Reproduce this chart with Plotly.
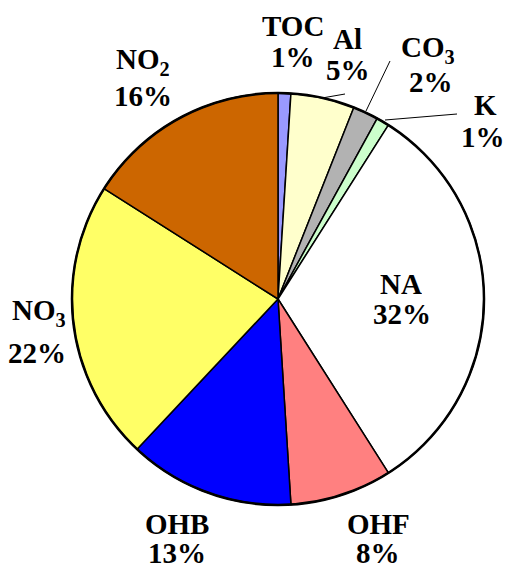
import plotly.graph_objects as go

# Share of each component (percent), clockwise from 12 o'clock
components = ["TOC", "Al", "CO3", "K", "NA", "OHF", "OHB", "NO3", "NO2"]
label_names = ["TOC", "Al", "CO<sub>3</sub>", "K", "NA", "OHF", "OHB", "NO<sub>3</sub>", "NO<sub>2</sub>"]
shares = [1, 5, 2, 1, 32, 8, 13, 22, 16]
slice_colors = ["#9999FF", "#FFFFCC", "#B2B2B2", "#CCFFCC", "#FFFFFF",
                "#FF8080", "#0000FF", "#FFFF66", "#CC6600"]

W, H = 506, 572
CX, CY, R = 278, 299, 206  # pie centre and radius in pixels


def px(x):
    return x / W


def py(y):
    return 1 - y / H


fig = go.Figure(go.Pie(
    labels=components,
    values=shares,
    sort=False,
    direction="clockwise",
    rotation=0,
    marker=dict(colors=slice_colors, line=dict(color="black", width=1.5)),
    textinfo="none",
    hoverinfo="label+percent",
    showlegend=False,
    domain=dict(x=[px(CX - R), px(CX + R)], y=[py(CY + R), py(CY - R)]),
))

# heavier outer rim
shapes = [dict(type="circle", xref="paper", yref="paper",
               x0=px(CX - R), x1=px(CX + R), y0=py(CY + R), y1=py(CY - R),
               line=dict(color="black", width=2.5))]

# leader lines for the narrow slices
leaders = [((345, 94), (322, 98)), ((390, 61), (366, 111)), ((457, 114), (385, 120))]
for (x0, y0), (x1, y1) in leaders:
    shapes.append(dict(type="line", xref="paper", yref="paper",
                       x0=px(x0), y0=py(y0), x1=px(x1), y1=py(y1),
                       line=dict(color="black", width=1)))

# label positions: (name centre x, name centre y, percent centre x, percent centre y)
label_pos = {
    "TOC": (293, 25, 293, 56),
    "Al": (347, 39, 348, 69),
    "CO3": (428, 50, 431, 81),
    "K": (485, 105, 483, 137),
    "NA": (401, 283, 402, 313),
    "OHF": (378, 523, 378, 552),
    "OHB": (177, 523, 177, 552),
    "NO3": (39, 312, 37, 352),
    "NO2": (143, 61, 143, 96),
}

font = dict(family="Liberation Serif", size=29, color="black")
annotations = []
for comp, name, v in zip(components, label_names, shares):
    nx, ny, vx, vy = label_pos[comp]
    annotations.append(dict(x=px(nx), y=py(ny), xref="paper", yref="paper",
                            text=f"<b>{name}</b>", showarrow=False, font=font,
                            height=29, borderpad=0,
                            xanchor="center", yanchor="middle"))
    annotations.append(dict(x=px(vx), y=py(vy), xref="paper", yref="paper",
                            text=f"<b>{v}%</b>", showarrow=False, font=font,
                            height=29, borderpad=0,
                            xanchor="center", yanchor="middle"))

fig.update_layout(
    width=W, height=H,
    margin=dict(l=0, r=0, t=0, b=0),
    paper_bgcolor="white",
    plot_bgcolor="white",
    shapes=shapes,
    annotations=annotations,
)

fig.write_html("out.html")
